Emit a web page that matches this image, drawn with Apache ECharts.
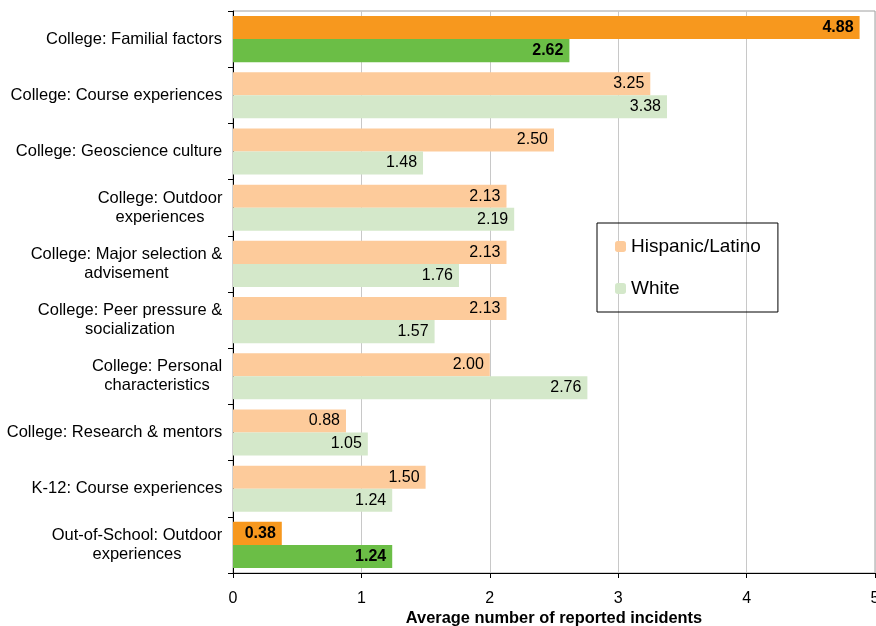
<!DOCTYPE html>
<html>
<head>
<meta charset="utf-8">
<script src="https://cdn.jsdelivr.net/npm/echarts@6/dist/echarts.min.js"></script>
<style>html,body{margin:0;padding:0;background:#fff}#c{width:876px;height:626px}</style>
</head>
<body>
<div id="c"></div>
<script>
var categories = [
  "College: Familial factors",
  "College: Course experiences",
  "College: Geoscience culture",
  "College: Outdoor\nexperiences",
  "College: Major selection &\nadvisement",
  "College: Peer pressure &\nsocialization",
  "College: Personal\ncharacteristics",
  "College: Research & mentors",
  "K-12: Course experiences",
  "Out-of-School: Outdoor\nexperiences"
];
var hispanic = [4.88, 3.25, 2.50, 2.13, 2.13, 2.13, 2.00, 0.88, 1.50, 0.38];
var white = [2.62, 3.38, 1.48, 2.19, 1.76, 1.57, 2.76, 1.05, 1.24, 1.24];
var highlighted = [0, 9];
var xTicks = [0, 1, 2, 3, 4, 5];

var FONT = '"Liberation Sans", Arial, sans-serif';
var CATSIZE = 16.5;
var cv = document.createElement('canvas').getContext('2d');
cv.font = CATSIZE + 'px ' + FONT;
var rich = {};
categories.forEach(function (c, i) {
  var w = Math.max.apply(null, c.split('\n').map(function (l) { return cv.measureText(l).width; }));
  rich['r' + i] = { width: Math.ceil(w) + 1, align: 'center', fontSize: CATSIZE, color: '#000', fontFamily: FONT, lineHeight: 19 };
});

function mk(vals, light, strong) {
  return vals.map(function (v, i) {
    var hl = highlighted.indexOf(i) >= 0;
    return {
      value: v,
      itemStyle: { color: hl ? strong : light },
      label: { fontWeight: hl ? 'bold' : 'normal' }
    };
  });
}

var chart = echarts.init(document.getElementById('c'), null, { renderer: 'canvas' });
chart.setOption({
  animation: false,
  textStyle: { fontFamily: FONT },
  grid: { left: 233, right: 1, top: 11, bottom: 53, show: true, borderColor: '#a0a0a0', borderWidth: 1,
    containLabel: false, outerBoundsMode: 'none' },
  legend: {
    orient: 'vertical',
    left: 597, top: 223,
    padding: [14, 17, 14, 18],
    itemGap: 23,
    itemWidth: 11, itemHeight: 11,
    borderColor: '#000', borderWidth: 1,
    textStyle: { fontSize: 19, color: '#000', fontFamily: FONT },
    data: ['Hispanic/Latino', 'White']
  },
  xAxis: {
    type: 'value',
    min: xTicks[0], max: xTicks[xTicks.length - 1], interval: 1,
    name: 'Average number of reported incidents',
    nameLocation: 'middle', nameGap: 37, nameMoveOverlap: false,
    nameTextStyle: { fontWeight: 'bold', fontSize: 16.4, color: '#000', fontFamily: FONT },
    axisLine: { show: true, lineStyle: { color: '#000', width: 1 } },
    axisTick: { show: true, length: 5, lineStyle: { color: '#000' } },
    axisLabel: { fontSize: 16, color: '#000', margin: 18, fontFamily: FONT },
    splitLine: { show: true, lineStyle: { color: '#c8c8c8', width: 1 } }
  },
  yAxis: {
    type: 'category',
    inverse: true,
    data: categories,
    axisLine: { show: true, lineStyle: { color: '#000', width: 1 } },
    axisTick: { show: true, length: 5, lineStyle: { color: '#000' } },
    axisLabel: {
      margin: 10,
      formatter: function (v, i) {
        return v.split('\n').map(function (l) { return '{r' + i + '|' + l + '}'; }).join('\n');
      },
      rich: rich
    }
  },
  series: [
    {
      name: 'Hispanic/Latino', type: 'bar',
      itemStyle: { color: '#FDCB9B' },
      barGap: '0%', barCategoryGap: '18%',
      label: { show: true, position: 'insideRight', distance: 6, color: '#000', fontFamily: FONT, fontSize: 16,
        formatter: function (p) { return p.value.toFixed(2); } },
      data: mk(hispanic, '#FDCB9B', '#F7981E')
    },
    {
      name: 'White', type: 'bar',
      itemStyle: { color: '#D4E8CA' },
      barGap: '0%', barCategoryGap: '18%',
      label: { show: true, position: 'insideRight', distance: 6, color: '#000', fontFamily: FONT, fontSize: 16,
        formatter: function (p) { return p.value.toFixed(2); } },
      data: mk(white, '#D4E8CA', '#6BBE46')
    }
  ]
});
</script>
</body>
</html>
